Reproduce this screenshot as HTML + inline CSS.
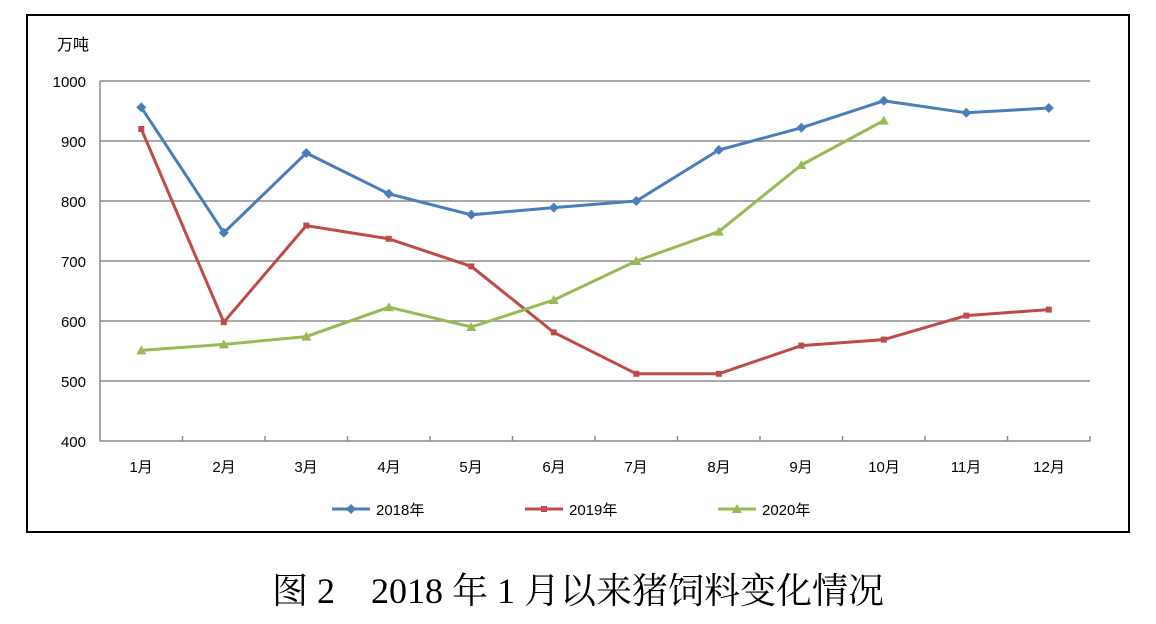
<!DOCTYPE html>
<html><head><meta charset="utf-8"><style>
html,body{margin:0;padding:0;background:#fff;}
svg{display:block;}
</style></head><body>
<svg width="1156" height="624" xmlns="http://www.w3.org/2000/svg" font-family="Liberation Sans, Noto Sans CJK SC, sans-serif">
<defs>
<path id="d" d="M0,-5 L5,0 L0,5 L-5,0Z" fill="#4a7ebb"/>
<rect id="s" x="-3" y="-3" width="6" height="6" fill="#be4b48"/>
<path id="t" d="M0,-5 L5,4 L-5,4Z" fill="#98b954"/>
</defs>
<rect x="27" y="15" width="1102" height="517" fill="none" stroke="#000" stroke-width="2"/>
<g stroke="#8c8c8c" stroke-width="1.5">
<line x1="100" y1="81" x2="1090" y2="81"/><line x1="100" y1="141" x2="1090" y2="141"/>
<line x1="100" y1="201" x2="1090" y2="201"/><line x1="100" y1="261" x2="1090" y2="261"/>
<line x1="100" y1="321" x2="1090" y2="321"/><line x1="100" y1="381" x2="1090" y2="381"/>
<line x1="100" y1="441" x2="1090" y2="441"/><line x1="100" y1="81" x2="100" y2="441"/>
<path d="M182.5,441v-5M265,441v-5M347.5,441v-5M430,441v-5M512.5,441v-5M595,441v-5M677.5,441v-5M760,441v-5M842.5,441v-5M925,441v-5M1007.5,441v-5M1090,441v-5"/>
</g>
<g font-size="15" fill="#000" text-anchor="end">
<text x="86" y="87">1000</text><text x="86" y="147">900</text><text x="86" y="207">800</text>
<text x="86" y="267">700</text><text x="86" y="327">600</text><text x="86" y="387">500</text><text x="86" y="447">400</text>
</g>
<text x="57" y="50" font-size="16">万吨</text>
<g font-size="15" text-anchor="middle">
<text x="141" y="472">1月</text><text x="224" y="472">2月</text><text x="306" y="472">3月</text><text x="389" y="472">4月</text>
<text x="471" y="472">5月</text><text x="554" y="472">6月</text><text x="636" y="472">7月</text><text x="719" y="472">8月</text>
<text x="801" y="472">9月</text><text x="884" y="472">10月</text><text x="966" y="472">11月</text><text x="1049" y="472">12月</text>
</g>
<polyline fill="none" stroke="#4a7ebb" stroke-width="3" points="141.3,107.4 223.8,232.8 306.3,153 388.8,193.8 471.3,214.8 553.8,207.6 636.3,201 718.8,150 801.3,127.8 883.8,100.8 966.3,112.8 1048.8,108"/>
<polyline fill="none" stroke="#be4b48" stroke-width="3" points="141.3,129 223.8,322.2 306.3,225.6 388.8,238.8 471.3,266.4 553.8,332.4 636.3,373.8 718.8,373.8 801.3,345.6 883.8,339.6 966.3,315.6 1048.8,309.6"/>
<polyline fill="none" stroke="#98b954" stroke-width="3" points="141.3,350.4 223.8,344.4 306.3,336.6 388.8,307.2 471.3,327 553.8,300 636.3,261 718.8,231.6 801.3,165 883.8,120.6"/>
<g>
<use href="#d" x="141.3" y="107.4"/><use href="#d" x="223.8" y="232.8"/><use href="#d" x="306.3" y="153"/><use href="#d" x="388.8" y="193.8"/><use href="#d" x="471.3" y="214.8"/><use href="#d" x="553.8" y="207.6"/><use href="#d" x="636.3" y="201"/><use href="#d" x="718.8" y="150"/><use href="#d" x="801.3" y="127.8"/><use href="#d" x="883.8" y="100.8"/><use href="#d" x="966.3" y="112.8"/><use href="#d" x="1048.8" y="108"/>
<use href="#s" x="141.3" y="129"/><use href="#s" x="223.8" y="322.2"/><use href="#s" x="306.3" y="225.6"/><use href="#s" x="388.8" y="238.8"/><use href="#s" x="471.3" y="266.4"/><use href="#s" x="553.8" y="332.4"/><use href="#s" x="636.3" y="373.8"/><use href="#s" x="718.8" y="373.8"/><use href="#s" x="801.3" y="345.6"/><use href="#s" x="883.8" y="339.6"/><use href="#s" x="966.3" y="315.6"/><use href="#s" x="1048.8" y="309.6"/>
<use href="#t" x="141.3" y="350.4"/><use href="#t" x="223.8" y="344.4"/><use href="#t" x="306.3" y="336.6"/><use href="#t" x="388.8" y="307.2"/><use href="#t" x="471.3" y="327"/><use href="#t" x="553.8" y="300"/><use href="#t" x="636.3" y="261"/><use href="#t" x="718.8" y="231.6"/><use href="#t" x="801.3" y="165"/><use href="#t" x="883.8" y="120.6"/>
</g>
<line x1="332" y1="509" x2="370" y2="509" stroke="#4a7ebb" stroke-width="3"/><use href="#d" x="351" y="509"/>
<text x="376" y="515" font-size="15">2018年</text>
<line x1="525" y1="509" x2="563" y2="509" stroke="#be4b48" stroke-width="3"/><use href="#s" x="544" y="509"/>
<text x="569" y="515" font-size="15">2019年</text>
<line x1="718" y1="509" x2="756" y2="509" stroke="#98b954" stroke-width="3"/><use href="#t" x="737" y="509"/>
<text x="762" y="515" font-size="15">2020年</text>
<text x="578" y="603" font-size="36" text-anchor="middle" font-family="Liberation Serif, Noto Serif CJK SC, serif">图 2　2018 年 1 月以来猪饲料变化情况</text>
</svg>
</body></html>
